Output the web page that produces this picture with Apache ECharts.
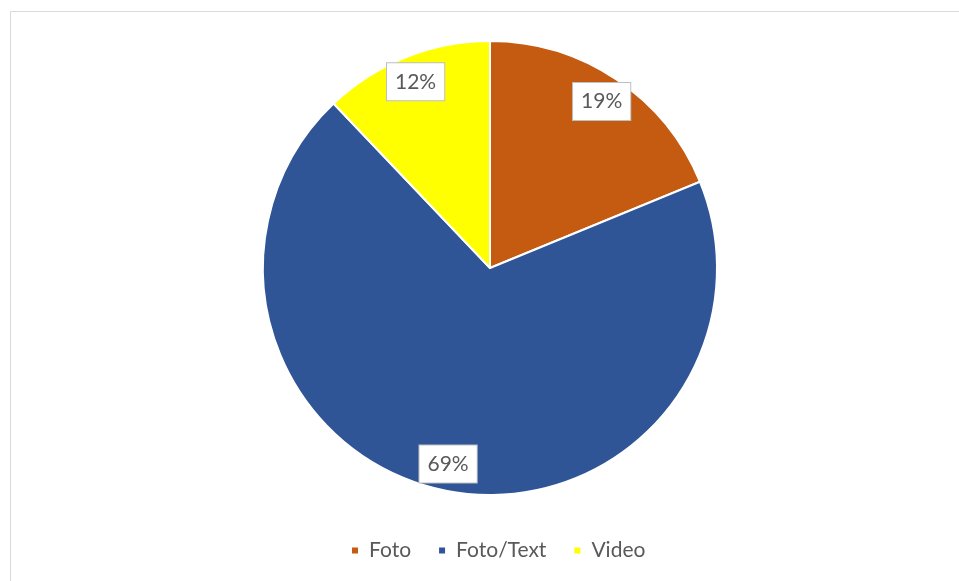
<!DOCTYPE html>
<html>
<head>
<meta charset="utf-8">
<script src="https://cdn.jsdelivr.net/npm/echarts@6/dist/echarts.min.js"></script>
<style>html,body{margin:0;padding:0;background:#fff;}#c{width:959px;height:581px;}</style>
</head>
<body>
<div id="c"></div>
<script>
const categories = ['Foto', 'Foto/Text', 'Video'];
const values = [18.8, 69.1, 12.1];
const colors = ['#C55A11', '#2F5597', '#FFFF00'];

const data = categories.map((n, i) => ({ name: n, value: values[i], itemStyle: { color: colors[i] } }));
const R = 227;
const chart = echarts.init(document.getElementById('c'));
chart.setOption({
  animation: false,
  graphic: [{
    type: 'rect', silent: true,
    shape: { x: 10.5, y: 11.5, width: 1000, height: 700 },
    style: { fill: 'none', stroke: '#d9d9d9', lineWidth: 1 }
  }],
  legend: {
    data: categories,
    left: 345, top: 535,
    itemWidth: 8, itemHeight: 8, itemGap: 26,
    icon: 'rect',
    textStyle: { fontFamily: 'Lato', fontSize: 21, color: '#595959', padding: [0, 0, 0, 5] }
  },
  series: [{
    type: 'pie',
    center: [490, 268], radius: [0, R],
    startAngle: 90, clockwise: true,
    data: data,
    label: { show: false }, labelLine: { show: false },
    itemStyle: { borderColor: '#fff', borderWidth: 2 }
  }, {
    type: 'pie', silent: true,
    center: [490, 268], radius: [R * 0.74, R],
    startAngle: 90, clockwise: true,
    data: categories.map((n, i) => ({ name: n, value: values[i] })),
    itemStyle: { color: 'transparent' },
    labelLine: { show: false },
    label: {
      show: true, position: 'inside',
      formatter: p => Math.round(p.percent) + '%',
      fontFamily: 'Lato', fontSize: 21, color: '#595959',
      backgroundColor: '#fff', borderColor: '#bfbfbf', borderWidth: 1,
      padding: [9, 8, 7, 8]
    }
  }]
});
</script>
</body>
</html>
